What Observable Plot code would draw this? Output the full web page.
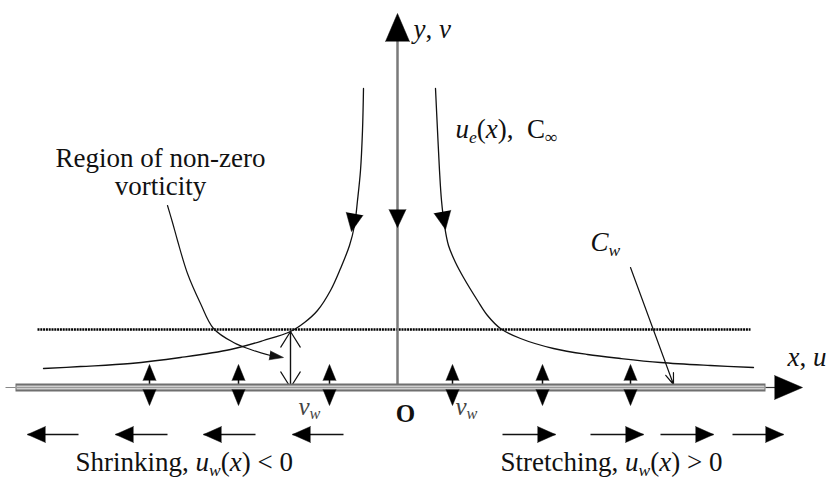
<!DOCTYPE html>
<html>
<head>
<meta charset="utf-8">
<script src="https://cdn.jsdelivr.net/npm/d3@7"></script>
<script src="https://cdn.jsdelivr.net/npm/@observablehq/plot@0.6"></script>
<style>
  html, body { margin: 0; padding: 0; background: #fff; }
  svg { display: block; }
</style>
</head>
<body>
<div id="chart"></div>
<script>
// ---- Diagram data (coordinates: origin O on the sheet, y upward) ----
const plateSpan = [-382, 368];           // extent of the stretching/shrinking sheet
const plateStub = [-392, -382];          // thin stub left of sheet
const xAxisTail = [368, 382];            // thin line from sheet end to x-axis arrow
const xAxisTip = 405;
const yAxisTip = 374;
const edgeY = 58;                        // boundary-layer edge (dotted line)
const edgeSpan = [-360, 353];

const leftStreamline = [
  [-34, 299], [-35, 257], [-37, 217], [-40, 187], [-43, 162], [-48, 142],
  [-57, 119], [-67, 97], [-80, 77], [-93, 65], [-107, 56], [-134, 47],
  [-167, 38], [-217, 30], [-267, 24], [-317, 21], [-354, 19]
];
const rightStreamline = [
  [38, 299], [40, 257], [42, 217], [44, 187], [47, 162], [51, 142],
  [58, 125], [66, 110], [80, 87], [90, 72], [103, 59], [123, 49],
  [156, 39], [190, 33], [223, 29], [263, 25], [313, 22], [356, 20]
];
const vorticityPointer = [
  [-230, 182], [-225, 165], [-220, 147], [-210, 114], [-197, 84],
  [-184, 59], [-164, 45], [-144, 37], [-127, 32], [-114, 30]
];
const flowHeads = [               // arrowheads on streamlines / y axis: x, y, direction (deg)
  {x: -46, y: 156, angle: 190},
  {x: 48, y: 158, angle: 170},
  {x: 0, y: 160, angle: 180}
];
const thicknessX = -107;          // double arrow showing boundary-layer thickness
const cwPointer = {x1: 233, y1: 120, x2: 276, y2: 3};

const suctionX = [-248, -159, -68, 55, 145, 233];   // wall-velocity v_w arrows
const suctionTop = 23, suctionBottom = -18;

const wallArrowY = -47;
const shrinkTails = [-319, -230, -142, -54];
const shrinkTips  = [-370, -282, -194, -105];
const stretchTails = [105, 193, 263, 335];
const stretchTips  = [158, 246, 316, 386];

const centeredLabels = [
  {text: "Region of non-zero", x: -237, y: 221},
  {text: "vorticity", x: -237, y: 193}
];
const labels = [
  {text: "*y*, *v*", x: 16, y: 350},
  {text: "*u*_{*e*}(*x*),\u00a0\u00a0C_{\u221e}", x: 58, y: 250},
  {text: "*C*_{*w*}", x: 193, y: 137},
  {text: "*x*, *u*", x: 390, y: 22},
  {text: "Shrinking, *u*_{*w*}(*x*) < 0", x: -322, y: -83},
  {text: "Stretching, *u*_{*w*}(*x*) > 0", x: 103, y: -83}
];
const wallLabels = [
  {text: "*v*_{*w*}", x: -99, y: -27},
  {text: "*v*_{*w*}", x: 58, y: -27}
];
const originLabel = [{text: "O", x: 8, y: -34}];

// ---- derived tables ----
const shrinkArrows = shrinkTails.map((t, i) => ({x1: t, x2: shrinkTips[i], y: wallArrowY, angle: 270}));
const stretchArrows = stretchTails.map((t, i) => ({x1: t, x2: stretchTips[i], y: wallArrowY, angle: 90}));
const wallArrows = shrinkArrows.concat(stretchArrows);
const suctionHeads = suctionX.flatMap(x => [{x, y: suctionTop, angle: 0}, {x, y: suctionBottom, angle: 180}]);
const pn = vorticityPointer.length;
const pA = vorticityPointer[pn - 2], pB = vorticityPointer[pn - 1];
const pointerHead = [{x: pB[0], y: pB[1], angle: Math.atan2(pB[0] - pA[0], pB[1] - pA[1]) * 180 / Math.PI}];

const serif = "'Liberation Serif', 'Times New Roman', serif";

const chart = Plot.plot({
  width: 827,
  height: 479,
  margin: 0,
  x: {domain: [-397, 430], axis: null},
  y: {domain: [-92, 387], axis: null},
  style: {background: "#fff", fontFamily: serif, overflow: "visible"},
  marks: [
    // boundary-layer edge
    Plot.link([edgeSpan], {x1: d => d[0], x2: d => d[1], y1: edgeY, y2: edgeY,
      stroke: "#000", strokeWidth: 2.4, strokeDasharray: "2,0.8"}),
    // y axis
    Plot.link([0], {x1: 0, x2: 0, y1: 0, y2: yAxisTip - 20, stroke: "#7a7a7a", strokeWidth: 2.5}),
    // streamlines
    Plot.line(leftStreamline, {x: d => d[0], y: d => d[1], curve: "catmull-rom", stroke: "#111", strokeWidth: 1.3}),
    Plot.line(rightStreamline, {x: d => d[0], y: d => d[1], curve: "catmull-rom", stroke: "#111", strokeWidth: 1.3}),
    // vorticity pointer
    Plot.line(vorticityPointer.slice(0, -1), {x: d => d[0], y: d => d[1], curve: "catmull-rom", stroke: "#111", strokeWidth: 1.2}),
    Plot.vector(pointerHead, {x: "x", y: "y", rotate: "angle", length: 14, r: 4.5, shape: "spike", anchor: "end", fill: "#111", stroke: "#111", strokeWidth: 0.5}),
    // thickness double arrow
    Plot.arrow([0], {x1: thicknessX, x2: thicknessX, y1: 0, y2: edgeY - 2, stroke: "#111", strokeWidth: 1.2, headLength: 23, headAngle: 64}),
    Plot.arrow([0], {x1: thicknessX, x2: thicknessX, y1: edgeY - 2, y2: 0, stroke: "#111", strokeWidth: 1.2, headLength: 23, headAngle: 64}),
    // C_w pointer
    Plot.arrow([cwPointer], {x1: "x1", y1: "y1", x2: "x2", y2: "y2", stroke: "#111", strokeWidth: 1.2, headLength: 15, headAngle: 40}),
    // v_w stems
    Plot.link(suctionX, {x1: d => d, x2: d => d, y1: suctionBottom + 8, y2: suctionTop - 8, stroke: "#111", strokeWidth: 1.5}),
    // plate
    Plot.link([plateStub], {x1: d => d[0], x2: d => d[1], y1: 0, y2: 0, stroke: "#888", strokeWidth: 1}),
    Plot.link([xAxisTail], {x1: d => d[0], x2: d => d[1], y1: 0, y2: 0, stroke: "#333", strokeWidth: 1.2}),
    Plot.link([plateSpan], {x1: d => d[0], x2: d => d[1], y1: 0, y2: 0, stroke: "#6f6f6f", strokeWidth: 8}),
    Plot.link([plateSpan], {x1: d => d[0] + 1, x2: d => d[1] - 1, y1: 0, y2: 0, stroke: "#cfcfcf", strokeWidth: 4}),
    Plot.link([plateSpan], {x1: d => d[0] + 1, x2: d => d[1] - 1, y1: 0, y2: 0, stroke: "#9a9a9a", strokeWidth: 1}),
    // arrowheads
    Plot.vector([{x: 0, y: yAxisTip, angle: 0}, {x: xAxisTip, y: 0, angle: 90}], {x: "x", y: "y", rotate: "angle", length: 28, r: 12, shape: "spike", anchor: "end", fill: "#000", stroke: "#000", strokeWidth: 0.5}),
    Plot.vector(flowHeads, {x: "x", y: "y", rotate: "angle", length: 18, r: 8.5, shape: "spike", anchor: "end", fill: "#000", stroke: "#000", strokeWidth: 0.5}),
    Plot.vector(suctionHeads, {x: "x", y: "y", rotate: "angle", length: 16, r: 6.5, shape: "spike", anchor: "end", fill: "#000", stroke: "#000", strokeWidth: 0.5}),
    // wall velocity arrows
    Plot.link(wallArrows, {x1: "x1", x2: "x2", y1: "y", y2: "y", stroke: "#111", strokeWidth: 1.3}),
    Plot.vector(wallArrows, {x: "x2", y: "y", rotate: "angle", length: 18, r: 8, shape: "spike", anchor: "end", fill: "#000", stroke: "#000", strokeWidth: 0.5}),
    // labels
    Plot.text(centeredLabels, {x: "x", y: "y", text: "text", textAnchor: "middle", lineAnchor: "bottom", fontSize: 27, fontFamily: serif, fill: "#111"}),
    Plot.text(labels, {x: "x", y: "y", text: "text", textAnchor: "start", lineAnchor: "bottom", fontSize: 27, fontFamily: serif, fill: "#111"}),
    Plot.text(wallLabels, {x: "x", y: "y", text: "text", textAnchor: "start", lineAnchor: "bottom", fontSize: 25, fontFamily: serif, fill: "#444"}),
    Plot.text(originLabel, {x: "x", y: "y", text: "text", textAnchor: "middle", lineAnchor: "bottom", fontSize: 25, fontWeight: "bold", fontFamily: serif, fill: "#111"})
  ]
});

// rich text: *italic* and _{subscript}
const SVGNS = "http://www.w3.org/2000/svg";
chart.querySelectorAll("text").forEach(t => {
  const s = t.textContent;
  if (!/[*_]/.test(s)) return;
  t.textContent = "";
  t.setAttribute("xml:space", "preserve");
  let shifted = false;
  for (const p of s.split(/(_\{[^}]*\})/)) {
    if (!p) continue;
    const sub = p.startsWith("_{");
    const body = sub ? p.slice(2, -1) : p;
    let first = true;
    for (const q of body.split(/(\*[^*]*\*)/)) {
      if (!q) continue;
      const it = q.length > 1 && q.startsWith("*") && q.endsWith("*");
      const ts = document.createElementNS(SVGNS, "tspan");
      ts.textContent = it ? q.slice(1, -1) : q;
      if (it) ts.setAttribute("font-style", "italic");
      if (sub) {
        ts.setAttribute("font-size", "65%");
        if (first) ts.setAttribute("dy", "0.3em");
      } else if (shifted && first) {
        ts.setAttribute("dy", "-0.195em");
      }
      t.appendChild(ts);
      first = false;
    }
    shifted = sub;
  }
});

document.getElementById("chart").appendChild(chart);
</script>
</body>
</html>
